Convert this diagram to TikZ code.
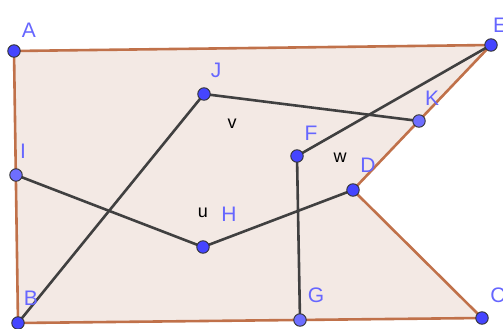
\documentclass[tikz,border=0pt]{standalone}
\usepackage{fontspec}
\setmainfont{Liberation Sans}
\begin{document}
\begin{tikzpicture}[x=1pt,y=-1pt,
  pt/.style={circle,draw=black!80,line width=0.9pt,inner sep=0pt,minimum size=12.5pt,fill=ptdark},
  ptl/.style={pt,fill=ptlight},
  lab/.style={text=labblue,font=\fontsize{21}{21}\selectfont,inner sep=0pt},
  blab/.style={text=black,font=\fontsize{18}{18}\selectfont,inner sep=0pt},
  seg/.style={draw=black!75,line width=2.6pt},
  edge/.style={draw=brownedge,line width=2.6pt}]
\definecolor{ptdark}{HTML}{4545FF}
\definecolor{ptlight}{HTML}{6E6EFF}
\definecolor{labblue}{HTML}{6666FF}
\definecolor{brownedge}{HTML}{C0714A}
\definecolor{fillc}{HTML}{F3E9E4}
\useasboundingbox (0,0) rectangle (503,329);
\coordinate (a) at (14,51);
\coordinate (e) at (491,45);
\coordinate (k) at (419,121);
\coordinate (d) at (353,190);
\coordinate (c) at (482,318);
\coordinate (g) at (300,320);
\coordinate (b) at (18,323);
\coordinate (i) at (16,175);
\coordinate (j) at (204,94);
\coordinate (f) at (297,156);
\coordinate (h) at (203,247);
\fill[fillc] (a) -- (e) -- (d) -- (c) -- (b) -- cycle;
\draw[edge,line join=round] (a) -- (e) -- (d) -- (c) -- (b) -- cycle;
\draw[seg] (j) -- (b);
\draw[seg] (j) -- (k);
\draw[seg] (e) -- (f);
\draw[seg] (f) -- (g);
\draw[seg] (i) -- (h) -- (d);
\node[pt] (A) at (a) {};
\node[pt] (E) at (e) {};
\node[ptl] (K) at (k) {};
\node[pt] (D) at (d) {};
\node[pt] (C) at (c) {};
\node[ptl] (G) at (g) {};
\node[pt] (B) at (b) {};
\node[ptl] (I) at (i) {};
\node[pt] (J) at (j) {};
\node[pt] (F) at (f) {};
\node[pt] (H) at (h) {};
\node[lab] (lA) at (29,30) {A};
\node[lab] (lE) at (500,25) {E};
\node[lab] (lK) at (432,98) {K};
\node[lab] (lD) at (368,165) {D};
\node[lab] (lC) at (498,295) {C};
\node[lab] (lG) at (316,295) {G};
\node[lab] (lB) at (31,298) {B};
\node[lab] (lI) at (23,151) {I};
\node[lab] (lJ) at (216,70) {J};
\node[lab] (lF) at (311,133) {F};
\node[lab] (lH) at (229,214) {H};
\node[blab] (lv) at (232,124) {v};
\node[blab] (lw) at (340,158) {w};
\node[blab] (lu) at (203,213) {u};
\end{tikzpicture}
\end{document}
